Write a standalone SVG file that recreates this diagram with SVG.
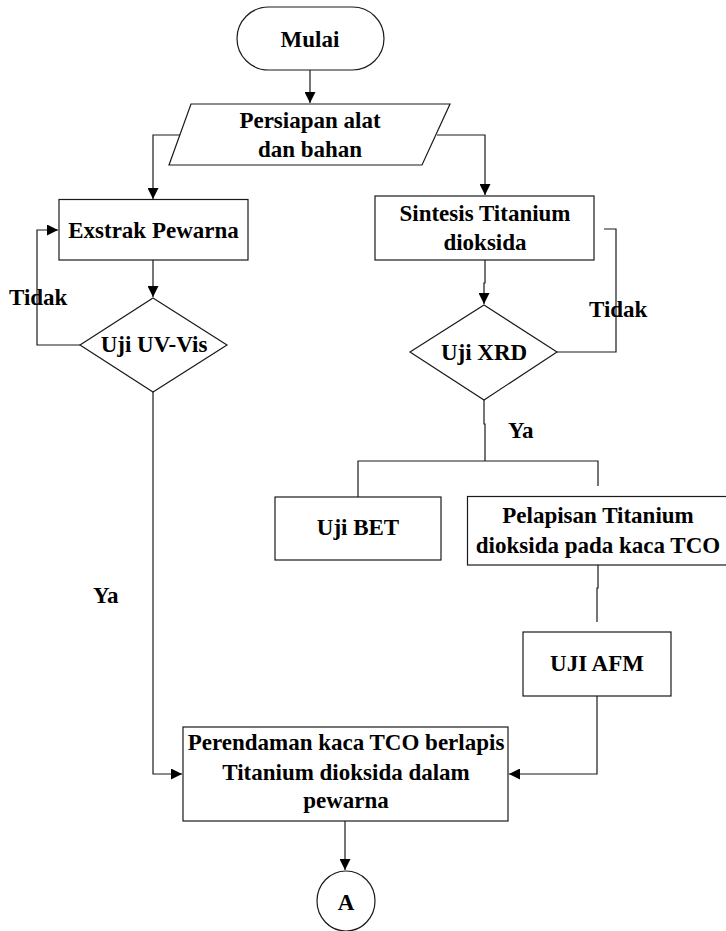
<svg xmlns="http://www.w3.org/2000/svg" width="726" height="931" viewBox="0 0 726 931">
<style>
.s{fill:#fff;stroke:#1a1a1a;stroke-width:1.2}
.c{fill:none;stroke:#1a1a1a;stroke-width:1.2}
</style>
<defs>
<marker id="ah" viewBox="0 0 10 10" refX="10" refY="5" markerWidth="11" markerHeight="11" markerUnits="userSpaceOnUse" orient="auto">
<path d="M0,0 L10,5 L0,10 Z" fill="#000"/>
</marker>
</defs>
<rect width="726" height="931" fill="#fff"/>
<g id="connectors">
<path class="c" d="M310,70 V103" marker-end="url(#ah)"/>
<path class="c" d="M180,135 H153 V199" marker-end="url(#ah)"/>
<path class="c" d="M437,135 H485 V195" marker-end="url(#ah)"/>
<path class="c" d="M153,260 V297" marker-end="url(#ah)"/>
<path class="c" d="M80,345 H37 V230 H58" marker-end="url(#ah)"/>
<path class="c" d="M485,260 V283 H484 V304" marker-end="url(#ah)"/>
<path class="c" d="M557,352 H616 V229 H604"/>
<path class="c" d="M484,400 V424 H485 V461"/>
<path class="c" d="M358,497 V461 H598 V486"/>
<path class="c" d="M598,565 V588 H597 V622"/>
<path class="c" d="M597,696 V774 H509" marker-end="url(#ah)"/>
<path class="c" d="M153,392 V774 H182" marker-end="url(#ah)"/>
<path class="c" d="M345,821 V870" marker-end="url(#ah)"/>
</g>
<g font-family="Liberation Serif, Times New Roman, serif" font-weight="bold" font-size="23" fill="#000">
<g id="labels">
<text x="9" y="305">Tidak</text>
<text x="589" y="317">Tidak</text>
<text x="508" y="438">Ya</text>
<text x="93" y="603">Ya</text>
</g>
<g id="mulai">
<rect class="s" x="237" y="7" width="147" height="63" rx="31.5" ry="31.5"/>
<text text-anchor="middle" x="310" y="47">Mulai</text>
</g>
<g id="persiapan">
<polygon class="s" points="191,104 450,104 422,165 169,165"/>
<text text-anchor="middle" x="310" y="128">Persiapan alat</text>
<text text-anchor="middle" x="310" y="157">dan bahan</text>
</g>
<g id="exstrak">
<rect class="s" x="59" y="199.5" width="189" height="60.5"/>
<text text-anchor="middle" x="153.5" y="238">Exstrak Pewarna</text>
</g>
<g id="sintesis">
<rect class="s" x="375" y="196" width="219" height="64"/>
<text text-anchor="middle" x="485" y="221">Sintesis Titanium</text>
<text text-anchor="middle" x="485" y="250">dioksida</text>
</g>
<g id="uvvis">
<polygon class="s" points="153,298 227,345 153,392 80,345"/>
<text text-anchor="middle" x="154" y="352">Uji UV-Vis</text>
</g>
<g id="xrd">
<polygon class="s" points="484,305 557,352 484,400 410,352"/>
<text text-anchor="middle" x="484" y="360">Uji XRD</text>
</g>
<g id="bet">
<rect class="s" x="275" y="497" width="166" height="63"/>
<text text-anchor="middle" x="358" y="535">Uji BET</text>
</g>
<g id="pelapisan">
<rect class="s" x="467.5" y="496.5" width="262" height="68.5"/>
<text text-anchor="middle" x="598" y="523">Pelapisan Titanium</text>
<text text-anchor="middle" x="598" y="553">dioksida pada kaca TCO</text>
</g>
<g id="afm">
<rect class="s" x="523" y="632" width="148" height="64"/>
<text text-anchor="middle" x="597" y="671">UJI AFM</text>
</g>
<g id="perendaman">
<rect class="s" x="183" y="727" width="325" height="94"/>
<text text-anchor="middle" x="346" y="750">Perendaman kaca TCO berlapis</text>
<text text-anchor="middle" x="346" y="780">Titanium dioksida dalam</text>
<text text-anchor="middle" x="346" y="808">pewarna</text>
</g>
<g id="a">
<ellipse class="s" cx="346" cy="901" rx="29" ry="30"/>
<text text-anchor="middle" x="346" y="910">A</text>
</g>
</g>
</svg>
